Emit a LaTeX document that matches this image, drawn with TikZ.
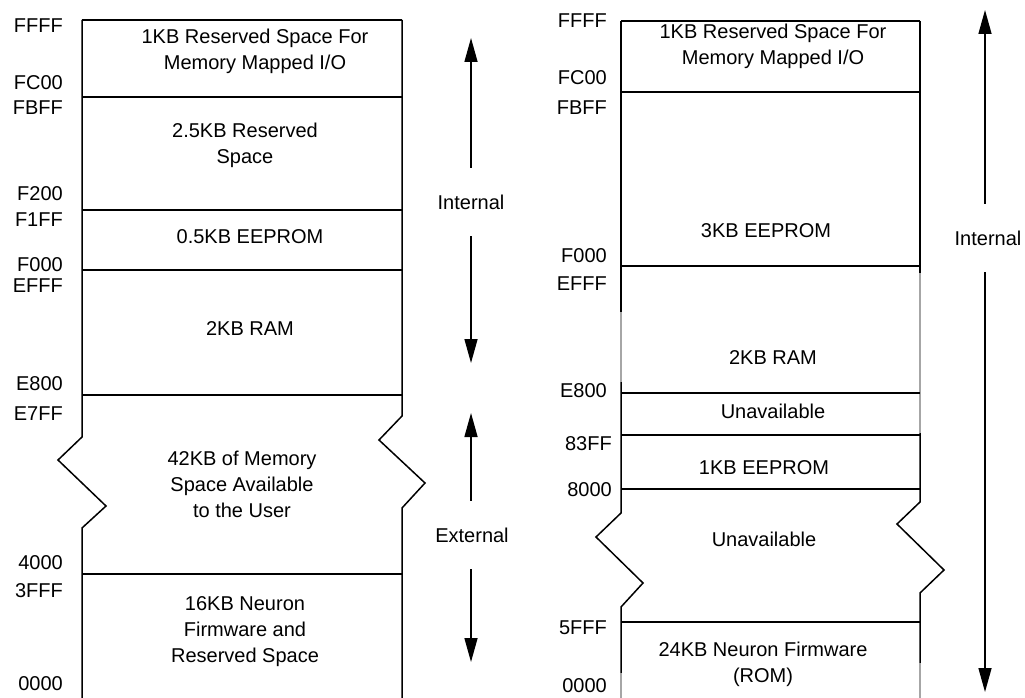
\documentclass[tikz,border=0pt]{standalone}
\usepackage{fontspec}
\setmainfont{Liberation Sans}
\usetikzlibrary{arrows.meta}

\begin{document}
\begin{tikzpicture}[x=1pt,y=-1pt,font=\fontsize{20}{26}\selectfont,
	addr/.style={anchor=east,inner sep=0pt,text height=14.3pt,text depth=0pt},
	region/.style={align=center,anchor=base,inner sep=0pt},
	tag/.style={inner xsep=0pt,inner ysep=27pt,text height=14.3pt,text depth=0pt},
	wall/.style={line width=1.5pt},
	faint/.style={line width=1.5pt,draw=black!35},
	arr/.style={line width=1.5pt,-{Triangle[length=24pt,width=13pt]}}]
				\useasboundingbox (0,0) rectangle (1025,698);
				% left map: sides with break
				\draw[wall] (82,20) -- (82,437) -- (58,460) -- (106,506) -- (82,528) -- (82,698);
				\draw[wall] (402,20) -- (402,416) -- (379,440) -- (425,483) -- (402,508) -- (402,698);
				\foreach \y in {20,97,210,270,395,574}
				\draw[wall] (82,\y) -- (402,\y);
				% left map: addresses
				\node[addr] (lffff) at (63,25) {FFFF};
				\node[addr] (lfc00) at (63,82) {FC00};
				\node[addr] (lfbff) at (63,107) {FBFF};
				\node[addr] (lf200) at (63,193) {F200};
				\node[addr] (lf1ff) at (63,219) {F1FF};
				\node[addr] (lf000) at (63,264) {F000};
				\node[addr] (lefff) at (63,285) {EFFF};
				\node[addr] (le800) at (63,383) {E800};
				\node[addr] (le7ff) at (63,413) {E7FF};
				\node[addr] (l4000) at (63,562) {4000};
				\node[addr] (l3fff) at (63,590) {3FFF};
				\node[addr] (l0000) at (63,683) {0000};
				% left map: regions (placed at last baseline)
				\node[region] (lio) at (255,70) {1KB Reserved Space For\\Memory Mapped I/O};
				\node[region] (lres) at (245,164) {2.5KB Reserved\\Space};
				\node[region] (leep) at (250,243) {0.5KB EEPROM};
				\node[region] (lram) at (250,335) {2KB RAM};
				\node[region] (luser) at (242,517) {42KB of Memory\\Space Available\\to the User};
				\node[region] (lfw) at (245,662) {16KB Neuron\\Firmware and\\Reserved Space};
				% left map: internal / external
				\node[tag] (lint) at (471,202) {Internal};
				\coordinate (linttop) at (471,38);
				\coordinate (lintbot) at (471,363);
				\draw[arr] (lint) -- (linttop);
				\draw[arr] (lint) -- (lintbot);
				\node[tag] (lext) at (472,535) {External};
				\coordinate (lexttop) at (471,413);
				\coordinate (lextbot) at (471,662);
				\draw[arr] (lext.north -| lexttop) -- (lexttop);
				\draw[arr] (lext.south -| lextbot) -- (lextbot);
				% right map: sides with break
				\draw[wall] (621,21) -- (621,312);
				\draw[faint] (621,312) -- (621,382);
				\draw[wall] (621,382) -- (621,513) -- (596,537) -- (643,583) -- (621,607) -- (621,673);
				\draw[faint] (621,673) -- (621,698);
				\draw[wall] (920,21) -- (920,273);
				\draw[faint] (920,273) -- (920,433);
				\draw[wall] (920,433) -- (920,502) -- (897,524) -- (944,570) -- (920,593) -- (920,663);
				\draw[faint] (920,663) -- (920,698);
				\foreach \y in {21,92,266,393,435,489,622}
				\draw[wall] (621,\y) -- (920,\y);
				% right map: addresses
				\node[addr] (rffff) at (607,20) {FFFF};
				\node[addr] (rfc00) at (607,77) {FC00};
				\node[addr] (rfbff) at (607,107) {FBFF};
				\node[addr] (rf000) at (607,255) {F000};
				\node[addr] (refff) at (607,283) {EFFF};
				\node[addr] (re800) at (607,390) {E800};
				\node[addr] (r83ff) at (612,443) {83FF};
				\node[addr] (r8000) at (612,489) {8000};
				\node[addr] (r5fff) at (607,627) {5FFF};
				\node[addr] (r0000) at (607,685) {0000};
				% right map: regions (placed at last baseline)
				\node[region] (rio) at (773,65) {1KB Reserved Space For\\Memory Mapped I/O};
				\node[region] (reep) at (766,237) {3KB EEPROM};
				\node[region] (rram) at (773,364) {2KB RAM};
				\node[region] (rna) at (773,418) {Unavailable};
				\node[region] (reep2) at (764,474) {1KB EEPROM};
				\node[region] (rna2) at (764,546) {Unavailable};
				\node[region] (rrom) at (763,682) {24KB Neuron Firmware\\(ROM)};
				% right map: internal
				\node[tag] (rint) at (988,238) {Internal};
				\coordinate (rinttop) at (985,10);
				\coordinate (rintbot) at (985,692);
				\draw[arr] (rint.north -| rinttop) -- (rinttop);
				\draw[arr] (rint.south -| rintbot) -- (rintbot);
			\end{tikzpicture}
\end{document}
